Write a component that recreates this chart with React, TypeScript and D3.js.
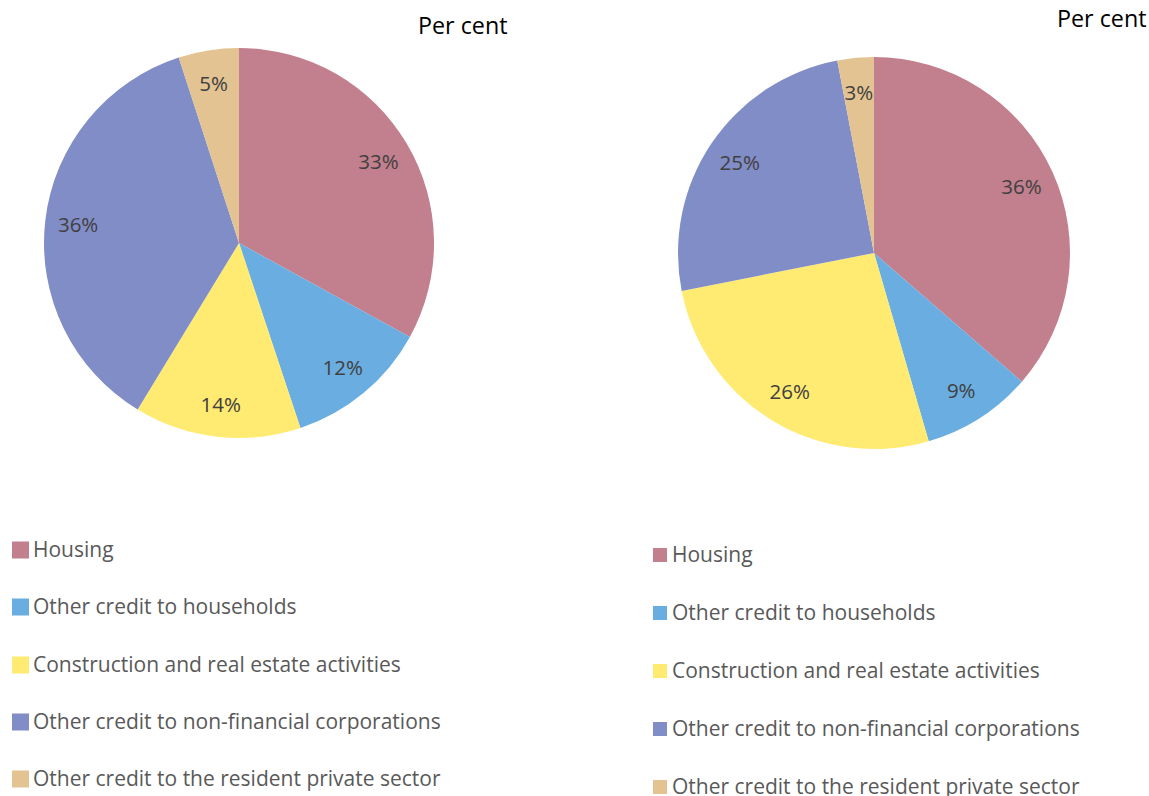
import React from "react";
import * as d3 from "d3";

const categories = [
  "Housing",
  "Other credit to households",
  "Construction and real estate activities",
  "Other credit to non-financial corporations",
  "Other credit to the resident private sector",
];
const colors = ["#C27F8D", "#6AADE0", "#FFEA72", "#818DC6", "#E2C391"];
const leftValues = [33.0, 11.9, 13.8, 36.3, 5.0];
const rightValues = [36.4, 9.1, 26.4, 25.1, 3.0];
const titleText = "Per cent";

const FONT = "'Open Sans', sans-serif";

type PieProps = {
  values: number[];
  cx: number;
  cy: number;
  r: number;
  labelR: number;
};

function Pie({ values, cx, cy, r, labelR }: PieProps) {
  const pie = d3.pie<number>().sort(null).value((d) => d);
  const arcs = pie(values);
  const arc = d3.arc<d3.PieArcDatum<number>>().innerRadius(0).outerRadius(r);
  const labelArc = d3
    .arc<d3.PieArcDatum<number>>()
    .innerRadius(labelR)
    .outerRadius(labelR);
  const total = d3.sum(values);
  const fmt = d3.format(".0%");
  return (
    <g transform={`translate(${cx},${cy})`}>
      {arcs.map((a, i) => (
        <path key={i} d={arc(a) || ""} fill={colors[i]} />
      ))}
      {arcs.map((a, i) => {
        const [x, y] = labelArc.centroid(a);
        return (
          <text
            key={"l" + i}
            x={x}
            y={y}
            textAnchor="middle"
            dominantBaseline="central"
            fontFamily={FONT}
            fontSize={20.5}
            fill="#404040"
          >
            {fmt(a.data / total)}
          </text>
        );
      })}
    </g>
  );
}

type LegendProps = {
  x: number;
  textX: number;
  baselines: number[];
  size: number;
};

function Legend({ x, textX, baselines, size }: LegendProps) {
  return (
    <g>
      {categories.map((c, i) => (
        <g key={i}>
          <rect
            x={x}
            y={baselines[i] - 7 - size / 2}
            width={size}
            height={size}
            fill={colors[i]}
          />
          <text
            x={textX}
            y={baselines[i]}
            fontFamily={FONT}
            fontSize={21}
            fill="#595959"
          >
            {c}
          </text>
        </g>
      ))}
    </g>
  );
}

export default function App() {
  return (
    <svg
      width={1149}
      height={796}
      style={{ position: "absolute", left: 0, top: 0, background: "#fff" }}
    >
      <rect width={1149} height={796} fill="#fff" />
      <text x={418} y={34} fontFamily={FONT} fontSize={23.3} fill="#000">
        {titleText}
      </text>
      <text x={1057} y={27} fontFamily={FONT} fontSize={23.3} fill="#000">
        {titleText}
      </text>
      <Pie values={leftValues} cx={239} cy={243} r={195} labelR={162} />
      <Pie values={rightValues} cx={874} cy={253} r={196} labelR={162} />
      <Legend x={12} textX={33} baselines={[557, 614, 672, 729, 786]} size={17} />
      <Legend x={653} textX={672} baselines={[562, 620, 678, 736, 794]} size={14} />
    </svg>
  );
}
